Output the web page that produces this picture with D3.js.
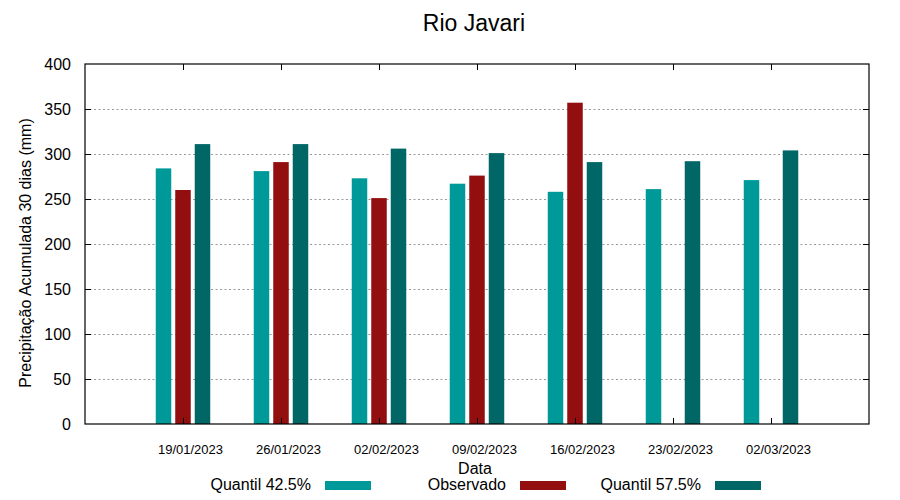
<!DOCTYPE html>
<html>
<head>
<meta charset="utf-8">
<script src="https://cdn.jsdelivr.net/npm/d3@7"></script>
<style>
  body { margin: 0; background: #fff; }
  svg { display: block; font-family: "Liberation Sans", Arial, sans-serif; }
</style>
</head>
<body>
<svg id="chart" width="900" height="500"></svg>
<script>
const dates = ["19/01/2023", "26/01/2023", "02/02/2023", "09/02/2023", "16/02/2023", "23/02/2023", "02/03/2023"];
const quantil425 = [284, 281, 273, 267, 258, 261, 271];
const observado = [260, 291, 251, 276, 357, null, null];
const quantil575 = [311, 311, 306, 301, 291, 292, 304];
const yTicks = [0, 50, 100, 150, 200, 250, 300, 350, 400];
const seriesNames = ["Quantil 42.5%", "Observado", "Quantil 57.5%"];
const colors = ["#009999", "#930e0e", "#006666"];

(function () {
const parse = d3.timeParse("%d/%m/%Y");
const svg = d3.select("#chart");
const pL = 85, pR = 869, pT = 64, pB = 424;

const x = d3.scaleTime()
  .domain([parse("12/01/2023"), parse("09/03/2023")])
  .range([pL, pR]);
const y = d3.scaleLinear().domain([0, 400]).range([pB, pT]);

// grid
svg.append("g").selectAll("line")
  .data(yTicks.filter(v => v > 0 && v < 400))
  .join("line")
  .attr("x1", pL).attr("x2", pR)
  .attr("y1", d => y(d) + 0.5).attr("y2", d => y(d) + 0.5)
  .attr("stroke", "#999").attr("stroke-width", 1)
  .attr("stroke-dasharray", "2,2.5");

// bars
const series = [quantil425, observado, quantil575];
const offsets = [-19.5, 0, 19.5];
const barW = 15.5;
series.forEach((vals, si) => {
  svg.append("g").selectAll("rect")
    .data(dates.map((d, i) => ({ d: parse(d), v: vals[i] })).filter(o => o.v != null))
    .join("rect")
    .attr("x", o => x(o.d) + offsets[si] - barW / 2)
    .attr("width", barW)
    .attr("y", o => y(o.v))
    .attr("height", o => y(0) - y(o.v))
    .attr("fill", colors[si]);
});

// y axis labels
const yAxis = d3.axisLeft(y).tickValues(yTicks).tickSize(0).tickPadding(14);
const gy = svg.append("g").attr("transform", `translate(${pL},0)`).call(yAxis);
gy.select(".domain").remove();
gy.selectAll("text").attr("font-size", 16).attr("fill", "#000").attr("font-family", "Liberation Sans, Arial, sans-serif");

// ticks
const ticksG = svg.append("g").attr("stroke", "#000").attr("stroke-width", 1);
yTicks.filter(v => v > 0 && v < 400).forEach(v => {
  const yp = y(v) + 0.5;
  ticksG.append("line").attr("x1", pL).attr("x2", pL + 6).attr("y1", yp).attr("y2", yp);
  ticksG.append("line").attr("x1", pR - 6).attr("x2", pR).attr("y1", yp).attr("y2", yp);
});
dates.forEach(d => {
  const xp = Math.round(x(parse(d))) + 0.5;
  ticksG.append("line").attr("x1", xp).attr("x2", xp).attr("y1", pB).attr("y2", pB - 6);
  ticksG.append("line").attr("x1", xp).attr("x2", xp).attr("y1", pT).attr("y2", pT + 6);
});

// x axis labels
const xAxis = d3.axisBottom(x).tickValues(dates.map(parse)).tickFormat(d3.timeFormat("%d/%m/%Y")).tickSize(0).tickPadding(21);
const gx = svg.append("g").attr("transform", `translate(7,${pB})`).call(xAxis);
gx.select(".domain").remove();
gx.selectAll("text").attr("font-size", 13).attr("fill", "#000").attr("font-family", "Liberation Sans, Arial, sans-serif");

// border
svg.append("rect").attr("x", pL).attr("y", pT).attr("width", pR - pL).attr("height", pB - pT)
  .attr("fill", "none").attr("stroke", "#000").attr("stroke-width", 1.2);

// title
svg.append("text").attr("x", 474).attr("y", 31).attr("text-anchor", "middle")
  .attr("font-size", 23).text("Rio Javari");

// axis titles
svg.append("text").attr("x", 475).attr("y", 474).attr("text-anchor", "middle")
  .attr("font-size", 16).text("Data");
svg.append("text").attr("transform", "translate(31,253) rotate(-90)").attr("text-anchor", "middle")
  .attr("font-size", 16).text("Precipitação Acumulada 30 dias (mm)");

// legend
const legX = [311, 506, 701];
seriesNames.forEach((n, i) => {
  svg.append("text").attr("x", legX[i]).attr("y", 490).attr("text-anchor", "end")
    .attr("font-size", 16).text(n);
  svg.append("rect").attr("x", legX[i] + 14).attr("y", 481).attr("width", 46).attr("height", 9)
    .attr("fill", colors[i]);
});
})();
</script>
</body>
</html>
